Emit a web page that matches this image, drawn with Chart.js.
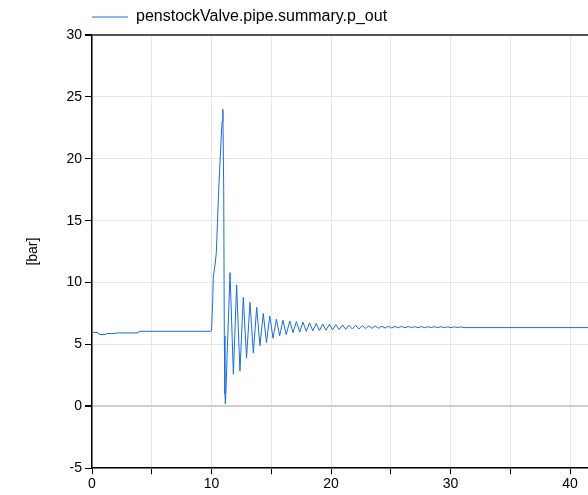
<!DOCTYPE html>
<html>
<head>
<meta charset="utf-8">
<script src="https://cdn.jsdelivr.net/npm/chart.js@4"></script>
<style>
  html, body { margin: 0; padding: 0; background: #fff; }
  #wrap { width: 588px; height: 495px; }
</style>
</head>
<body>
<div id="wrap"><canvas id="pChart"></canvas></div>
<script>
// time [s] and penstockValve.pipe.summary.p_out [bar]
var times = [
  0, 0.5, 0.6, 1.1, 1.25, 1.95, 2.1, 3.85, 4.0, 9.9,
  10.0, 10.1, 10.15, 10.3, 10.4, 10.5, 10.6, 10.7, 10.8, 10.88, 10.95, 11.02, 11.07, 11.12, 11.16, 11.22, 11.3,
  11.55, 11.83, 12.1, 12.38, 12.66, 12.93, 13.22, 13.5, 13.78, 14.05, 14.33, 14.6, 14.87, 15.15, 15.43, 15.7,
  15.98, 16.25, 16.55, 16.82, 17.1, 17.38, 17.65, 17.93, 18.2, 18.48, 18.76, 19.03, 19.3, 19.58, 19.86,
  20.13, 20.4, 20.68, 20.96, 21.23, 21.5, 21.78, 22.06, 22.33, 22.6, 22.88, 23.16, 23.43, 23.7, 23.98,
  24.26, 24.53, 24.8, 25.08, 25.36, 25.63, 25.9, 26.18, 26.46, 26.73, 27.0, 27.28, 27.56, 27.83, 28.1,
  28.38, 28.66, 28.93, 29.2, 29.48, 29.76, 30.03, 30.3, 30.58, 30.86, 31.13, 31.3, 41.7
];
var pOut = [
  6.0, 5.95, 5.8, 5.8, 5.88, 5.88, 5.93, 5.93, 6.06, 6.06,
  6.1, 8.5, 10.4, 11.5, 12.4, 14.9, 17.5, 19.5, 21.5, 23.0, 24.0, 17.5, 5.7, 1.0, 0.2, 1.5, 4.0,
  10.8, 2.6, 9.8, 2.85, 8.8, 3.9, 8.4, 4.3, 8.0, 4.9, 7.5, 5.15, 7.3, 5.5, 7.05, 5.7,
  6.95, 5.8, 6.9, 5.95, 6.85, 6.0, 6.8, 6.05, 6.75, 6.1, 6.7, 6.12, 6.65, 6.15, 6.62,
  6.18, 6.6, 6.2, 6.58, 6.22, 6.55, 6.25, 6.55, 6.25, 6.52, 6.28, 6.5, 6.3, 6.5, 6.3,
  6.48, 6.32, 6.47, 6.33, 6.46, 6.34, 6.45, 6.35, 6.45, 6.35, 6.44, 6.35, 6.44, 6.35, 6.43,
  6.36, 6.43, 6.36, 6.43, 6.36, 6.42, 6.36, 6.42, 6.36, 6.42, 6.36, 6.36, 6.36
];
var xTicks = [0, 5, 10, 15, 20, 25, 30, 35, 40];
var yTicks = [-5, 0, 5, 10, 15, 20, 25, 30];
var seriesName = 'penstockValve.pipe.summary.p_out';
var yTitle = '[bar]';
var xMin = 0, xMax = 41.5, yMin = -5, yMax = 30;

var points = [];
for (var i = 0; i < times.length; i++) {
  points.push({x: times[i], y: pOut[i]});
}

var fontFam = "'Liberation Sans', Arial, sans-serif";

var ctx = document.getElementById('pChart').getContext('2d');
var myChart = new Chart(ctx, {
  type: 'scatter',
  data: {
    datasets: [{
      label: seriesName,
      data: points,
      showLine: true,
      borderColor: '#1c6ed6',
      backgroundColor: '#1c6ed6',
      borderWidth: 1,
      pointRadius: 0,
      tension: 0
    }]
  },
  options: {
    responsive: true,
    maintainAspectRatio: false,
    animation: false,
    layout: { padding: { top: 9, right: 0, left: 0, bottom: 0 } },
    plugins: {
      tooltip: { enabled: false },
      legend: {
        display: true,
        position: 'top',
        align: 'start',
        fullSize: false,
        labels: {
          usePointStyle: true,
          pointStyle: 'line',
          pointStyleWidth: 36,
          padding: 0,
          color: '#000',
          font: { family: fontFam, size: 16 }
        }
      }
    },
    scales: {
      x: {
        type: 'linear',
        min: xMin,
        max: xMax,
        border: { color: '#000', width: 1.5 },
        grid: {
          color: '#e6e6e6',
          lineWidth: 1,
          tickColor: '#000',
          tickLength: 6
        },
        ticks: {
          color: '#000',
          padding: 2,
          maxRotation: 0,
          autoSkip: false,
          font: { family: fontFam, size: 14 },
          callback: function(v) { return v % 10 === 0 ? v : ''; }
        },
        afterBuildTicks: function(scale) {
          scale.ticks = xTicks.map(function(v) { return {value: v}; });
        }
      },
      y: {
        min: yMin,
        max: yMax,
        border: { color: '#000', width: 1.5 },
        grid: {
          color: function(c) {
            if (c.tick && c.tick.value === 0) return '#cfcfcf';
            if (c.tick && c.tick.value === yMax) return '#555';
            return '#e6e6e6';
          },
          lineWidth: function(c) {
            if (c.tick && (c.tick.value === 0 || c.tick.value === yMax)) return 2;
            return 1;
          },
          tickColor: '#000',
          tickLength: 7
        },
        ticks: {
          color: '#000',
          padding: 3,
          autoSkip: false,
          font: { family: fontFam, size: 14 }
        },
        afterBuildTicks: function(scale) {
          scale.ticks = yTicks.map(function(v) { return {value: v}; });
        },
        title: {
          display: true,
          text: yTitle,
          color: '#000',
          padding: { top: 25, bottom: 0 },
          font: { family: fontFam, size: 14 }
        },
        afterFit: function(scale) { scale.width = 92; }
      }
    }
  }
});
</script>
</body>
</html>
